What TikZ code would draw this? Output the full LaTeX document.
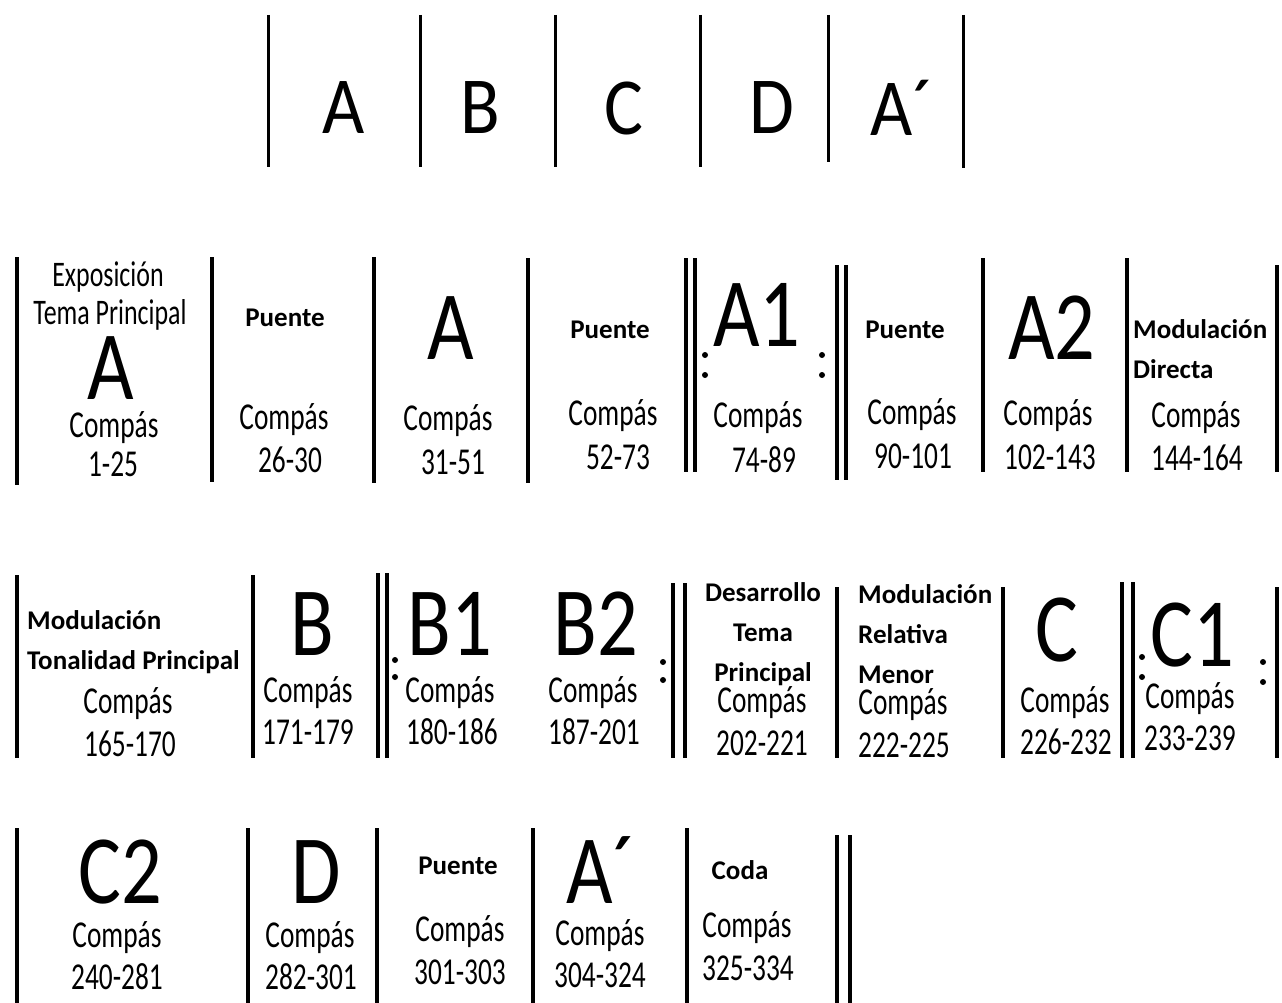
\documentclass[tikz,border=0pt]{standalone}
\usepackage{fontspec}
\setmainfont{Carlito}
\newfontfamily\talltext{Carlito}[FakeStretch=0.72]
\newfontfamily\bigtext{Carlito}[FakeStretch=0.82]
\newfontfamily\toptext{Carlito}[FakeStretch=0.9]

\tikzset{
  barline/.style={line width=3.5pt},
  topbar/.style={line width=3pt},
  sect/.style={inner sep=0pt, font=\bigtext\fontsize{98}{98}\selectfont},
  topsect/.style={inner sep=0pt, font=\toptext\fontsize{81}{81}\selectfont},
  cmp/.style={inner sep=0pt, font=\talltext\fontsize{38}{40}\selectfont},
  intro/.style={inner sep=0pt, font=\talltext\fontsize{36}{38}\selectfont},
  hdr/.style={inner sep=0pt, font=\bfseries\fontsize{27}{40}\selectfont}
}

\begin{document}
\begin{tikzpicture}[x=1pt, y=-1pt]
    \useasboundingbox (0,0) rectangle (1282,1003);

    % overview row
    \foreach \x/\ya/\yb in {268/15/167, 420/15/167, 555/15/167, 700/15/167, 828/15/162, 963/15/168}
        \draw[topbar] (\x,\ya) -- (\x,\yb);
    \node[topsect] (ovA) at (344,108) {A};
    \node[topsect] (ovB) at (480,108) {B};
    \node[topsect] (ovC) at (624,108) {C};
    \node[topsect] (ovD) at (772,108) {D};
    \node[topsect] (ovAp) at (902,108) {A´};

    % bar lines of the three rows
    \foreach \x/\ya/\yb in {17/257/485, 212/257/482, 374/257/483, 528/258/483, 686/258/472, 695/258/472,
                           837/265/480, 846/265/480, 983/258/472, 1127/258/472, 1277/265/472,
                           17/575/758, 253/575/758, 378/573/758, 387/573/758, 673/583/758, 685/583/758,
                           837/587/758, 1003/587/758, 1122/582/758, 1133/582/758, 1277/587/758,
                           17/828/1003, 248/828/1003, 377/828/1003, 533/828/1003, 687/828/1003,
                           837/835/1003, 850/835/1003}
        \draw[barline] (\x,\ya) -- (\x,\yb);

    % repeat dots
    \foreach \x/\y in {705/355, 705/375, 822/355, 822/375, 395/660, 395/677, 663/662, 663/680,
                       1142/657, 1142/677, 1263/662, 1263/682}
        \fill (\x,\y) circle[radius=3pt];

    % row 1
    \node[intro] (expo) at (108,277) {Exposición};
    \node[intro] (tema) at (110,315) {Tema Principal};
    \node[sect] (secA) at (111,368) {A};
    \node[cmp] (cmpA) at (114,428) {Compás};
    \node[cmp] (numA) at (113,464) {1-25};

    \node[hdr] (puenteI) at (285,318) {Puente};
    \node[cmp] (cmpPI) at (284,420) {Compás};
    \node[cmp] (numPI) at (290,460) {26-30};

    \node[sect] (secAA) at (451,328) {A};
    \node[cmp] (cmpAA) at (448,421) {Compás};
    \node[cmp] (numAA) at (453,462) {31-51};

    \node[hdr] (puenteII) at (610,330) {Puente};
    \node[cmp] (cmpPII) at (613,416) {Compás};
    \node[cmp] (numPII) at (618,457) {52-73};

    \node[sect] (secAi) at (757,315) {A1};
    \node[cmp] (cmpAi) at (758,418) {Compás};
    \node[cmp] (numAi) at (764,460) {74-89};

    \node[hdr] (puenteIII) at (905,330) {Puente};
    \node[cmp] (cmpPIII) at (912,415) {Compás};
    \node[cmp] (numPIII) at (913,456) {90-101};

    \node[sect] (secAii) at (1052,328) {A2};
    \node[cmp] (cmpAii) at (1048,416) {Compás};
    \node[cmp] (numAii) at (1050,457) {102-143};

    \node[hdr, anchor=west, align=left] (moddir) at (1133,349) {Modulación\\Directa};
    \node[cmp] (cmpMD) at (1196,418) {Compás};
    \node[cmp] (numMD) at (1197,458) {144-164};

    % row 2
    \node[hdr, anchor=west, align=left] (modton) at (27,642) {Modulación\\Tonalidad Principal};
    \node[cmp] (cmpMT) at (128,704) {Compás};
    \node[cmp] (numMT) at (130,744) {165-170};

    \node[sect] (secB) at (312,624) {B};
    \node[cmp] (cmpB) at (308,693) {Compás};
    \node[cmp] (numB) at (308,732) {171-179};

    \node[sect] (secBi) at (450,624) {B1};
    \node[cmp] (cmpBi) at (450,693) {Compás};
    \node[cmp] (numBi) at (452,732) {180-186};

    \node[sect] (secBii) at (596,624) {B2};
    \node[cmp] (cmpBii) at (593,693) {Compás};
    \node[cmp] (numBii) at (594,732) {187-201};

    \node[hdr, align=center] (desarr) at (763,634) {Desarrollo\\Tema\\Principal};
    \node[cmp] (cmpDes) at (762,703) {Compás};
    \node[cmp] (numDes) at (762,743) {202-221};

    \node[hdr, anchor=west, align=left] (modrel) at (858,634) {Modulación\\Relativa\\Menor};
    \node[cmp] (cmpMR) at (903,705) {Compás};
    \node[cmp] (numMR) at (904,745) {222-225};

    \node[sect] (secC) at (1057,630) {C};
    \node[cmp] (cmpC) at (1065,703) {Compás};
    \node[cmp] (numC) at (1066,742) {226-232};

    \node[sect] (secCi) at (1192,635) {C1};
    \node[cmp] (cmpCi) at (1190,699) {Compás};
    \node[cmp] (numCi) at (1190,738) {233-239};

    % row 3
    \node[sect] (secCii) at (120,872) {C2};
    \node[cmp] (cmpCii) at (117,938) {Compás};
    \node[cmp] (numCii) at (117,977) {240-281};

    \node[sect] (secD) at (316,872) {D};
    \node[cmp] (cmpD) at (310,938) {Compás};
    \node[cmp] (numD) at (311,977) {282-301};

    \node[hdr] (puenteIV) at (458,866) {Puente};
    \node[cmp] (cmpPIV) at (460,932) {Compás};
    \node[cmp] (numPIV) at (460,972) {301-303};

    \node[sect] (secAp) at (601,870) {A´};
    \node[cmp] (cmpAp) at (600,936) {Compás};
    \node[cmp] (numAp) at (600,975) {304-324};

    \node[hdr] (coda) at (740,870) {Coda};
    \node[cmp] (cmpCoda) at (747,928) {Compás};
    \node[cmp] (numCoda) at (748,968) {325-334};
\end{tikzpicture}
\end{document}
